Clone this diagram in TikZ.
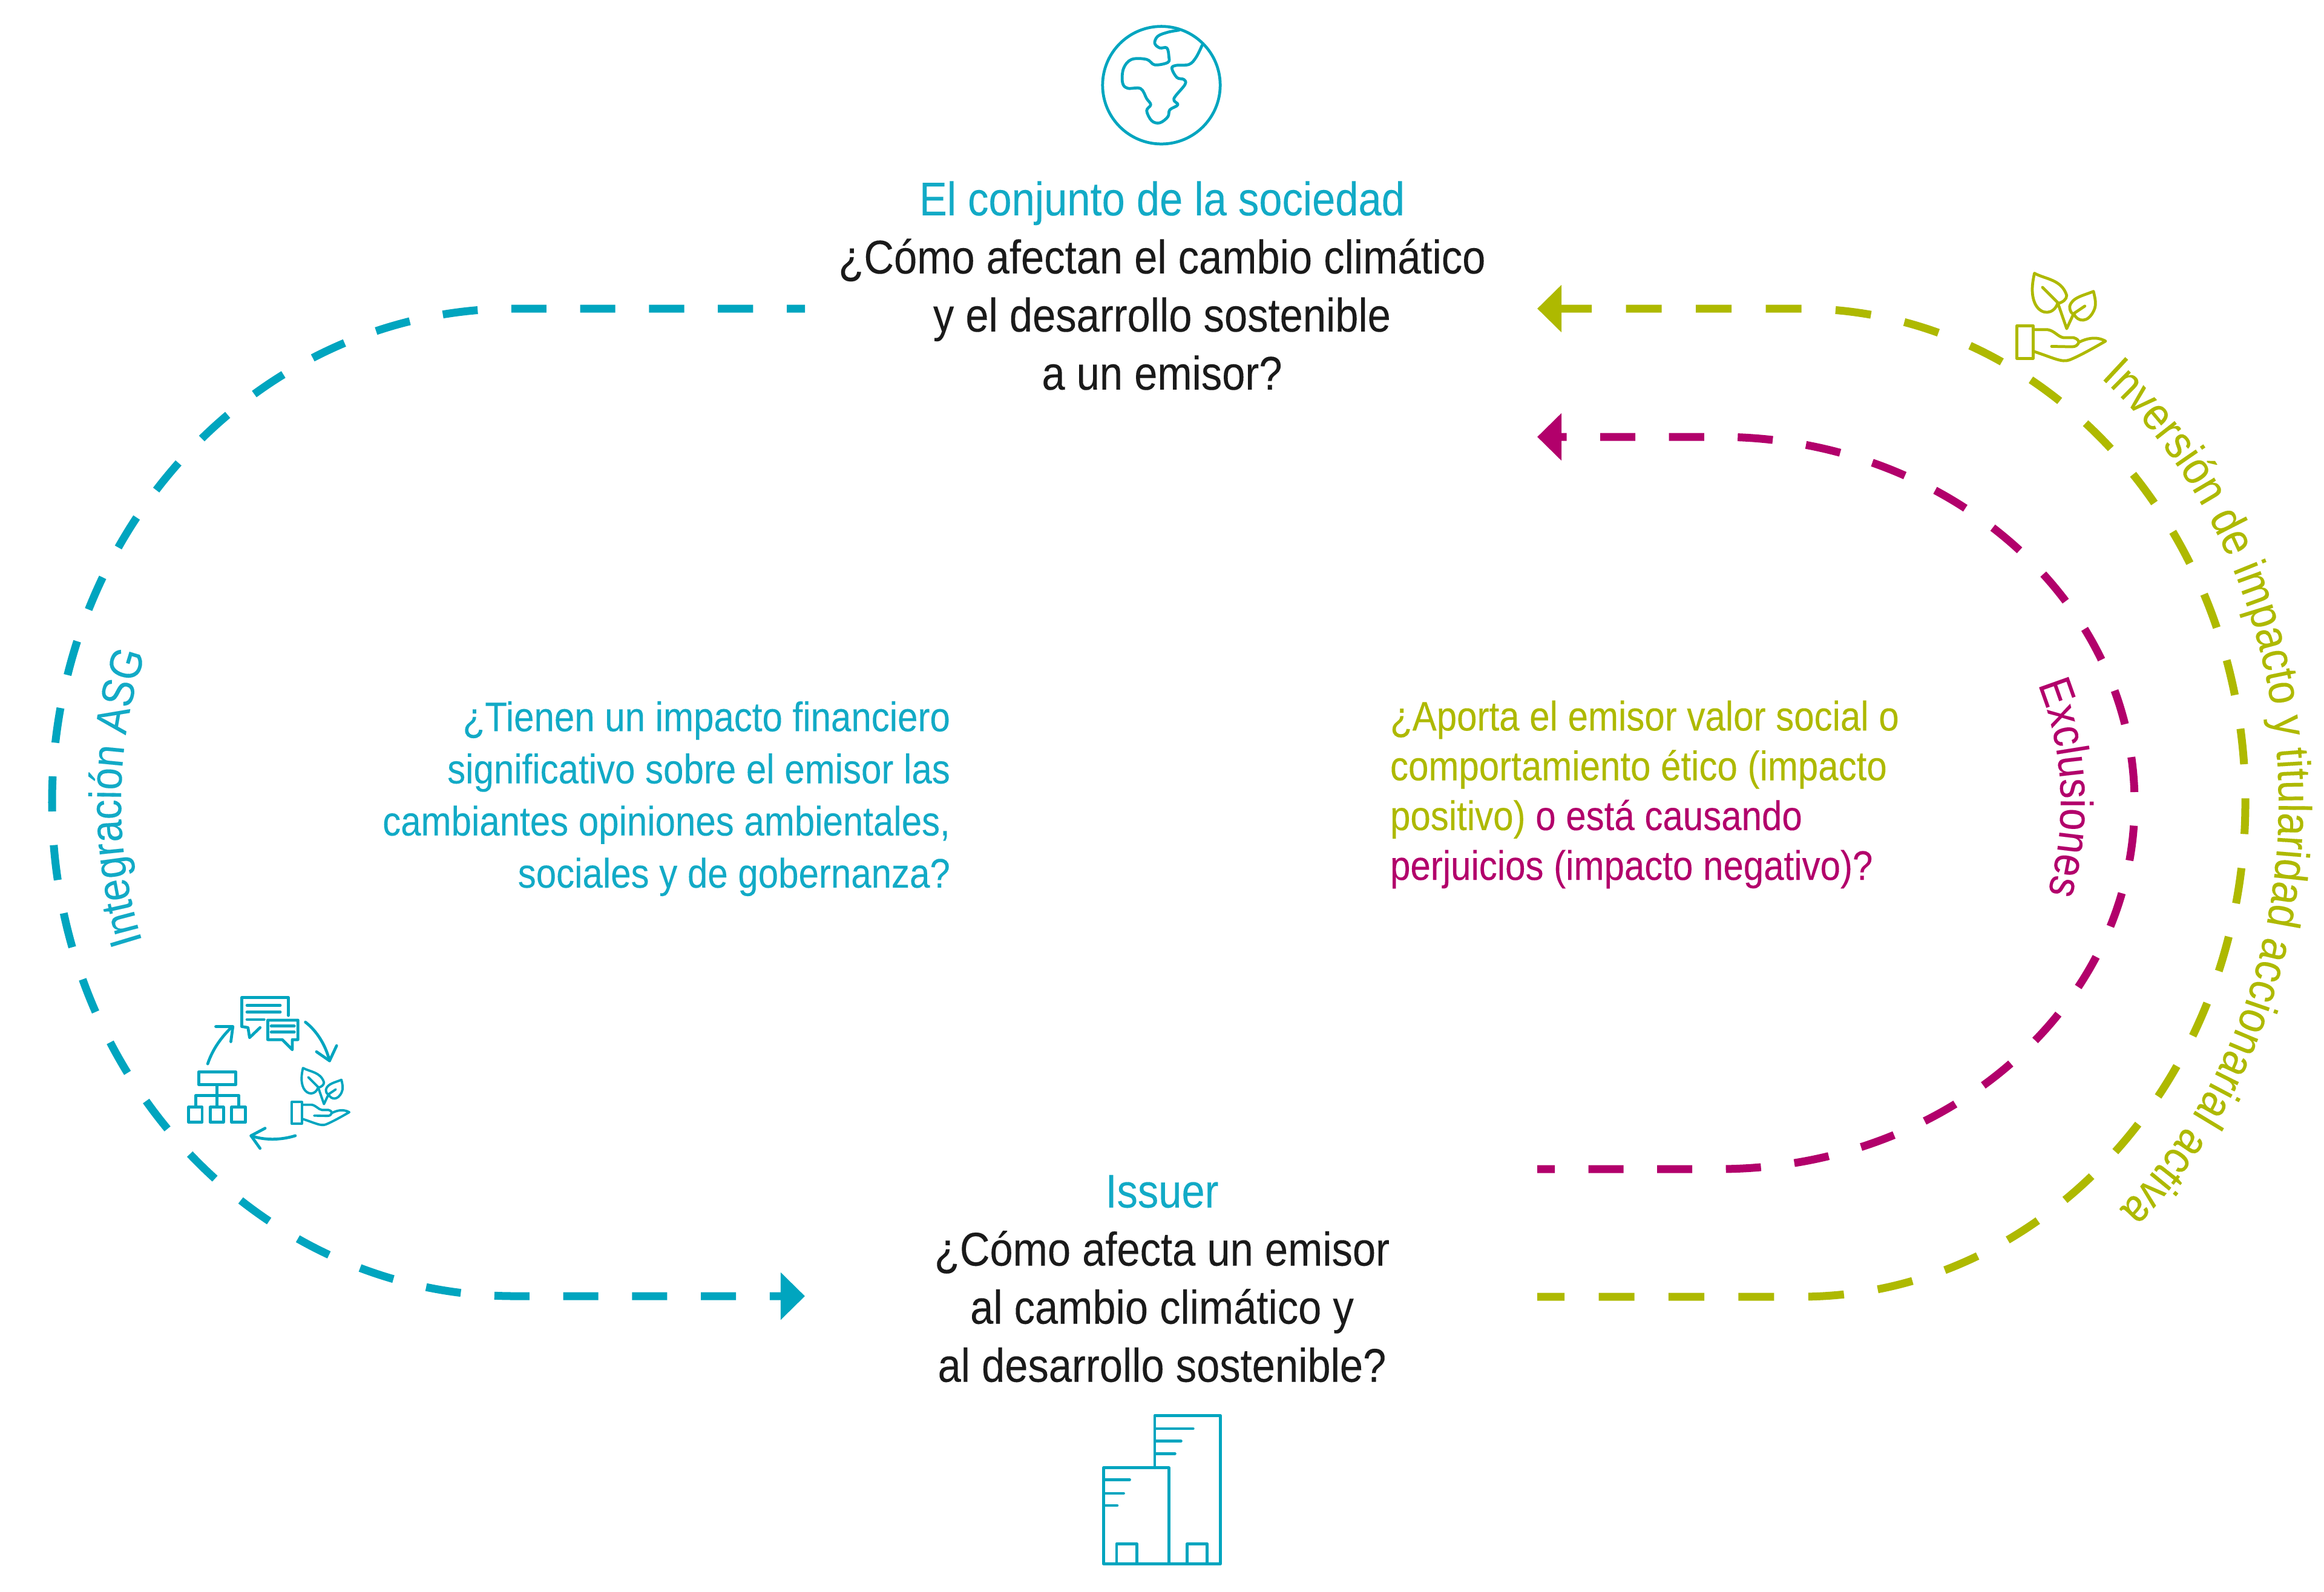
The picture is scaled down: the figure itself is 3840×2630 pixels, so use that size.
\documentclass[tikz,border=0pt]{standalone}
\usepackage{fontspec}
\usetikzlibrary{arrows.meta,decorations.text}
\setmainfont[FakeStretch=0.88,FakeBold=0.12]{Liberation Sans}
\definecolor{cblue}{HTML}{00A5BF}
\definecolor{ctblue}{HTML}{12AAC6}
\definecolor{cgreen}{HTML}{AEB900}
\definecolor{cmag}{HTML}{B2006B}
\definecolor{cink}{HTML}{1A1A1A}
\newcommand{\titlefont}{\fontsize{22.2}{27.3}\selectfont}
\newcommand{\leftfont}{\fontsize{19.4}{24.5}\selectfont}
\newcommand{\rightfont}{\fontsize{19.4}{23.4}\selectfont}
\newcommand{\arcfont}{\fontsize{21.3}{26}\selectfont}
\newcommand{\longarcfont}{\fontsize{21.8}{26}\selectfont}
\newcommand{\handicon}{%
  \draw (158,355) rectangle (238,518);
  \draw (238,375) -- (310,375) .. controls (345,380) and (360,410) .. (390,415) -- (440,415) .. controls (458,420) and (465,430) .. (465,438) .. controls (460,452) and (450,460) .. (430,460) -- (330,458);
  \draw (465,438) .. controls (500,420) and (550,405) .. (598,432) .. controls (540,465) and (470,505) .. (420,525) .. controls (380,540) and (340,515) .. (238,482);
  \draw (245,95) .. controls (300,125) and (380,125) .. (405,205) .. controls (405,225) and (385,240) .. (360,245) .. controls (340,300) and (280,305) .. (250,250) .. controls (225,200) and (235,140) .. (245,95) -- cycle;
  \draw (285,165) -- (360,240) -- (405,370) -- (440,295) -- (495,258);
  \draw (538,185) .. controls (490,205) and (430,215) .. (420,260) .. controls (420,285) and (430,295) .. (442,300) .. controls (460,335) and (510,345) .. (540,280) .. controls (555,250) and (545,215) .. (538,185) -- cycle;
}
\tikzset{
  flow/.style={line width=1.3mm},
  tip/.style={-{Triangle[length=0.4cm,width=0.76cm]}},
  icon/.style={line width=1.35pt,line join=round,line cap=round},
  textblock/.style={inner sep=0pt,outer sep=0pt,text=cink}
}
\begin{document}
\begin{tikzpicture}[x=0.01cm,y=-0.01cm]
\useasboundingbox (0,0) rectangle (3840,2630);
% text blocks
\node[textblock,align=center,font=\titlefont] (society) at (1920,472) {{\color{ctblue}El conjunto de la sociedad}\\¿Cómo afectan el cambio climático\\y el desarrollo sostenible\\a un emisor?};
\node[textblock,align=center,font=\titlefont] (issuer) at (1920,2113) {{\color{ctblue}Issuer}\\¿Cómo afecta un emisor\\al cambio climático y\\al desarrollo sostenible?};
\node[textblock,align=right,anchor=east,font=\leftfont,text=ctblue] (financial) at (1570,1320) {¿Tienen un impacto financiero\\significativo sobre el emisor las\\cambiantes opiniones ambientales,\\sociales y de gobernanza?};
\node[textblock,align=left,anchor=west,font=\rightfont] (ethical) at (2297,1313) {{\color{cgreen}¿Aporta el emisor valor social o}\\{\color{cgreen}comportamiento ético (impacto}\\{\color{cgreen}positivo)} {\color{cmag}o está causando}\\{\color{cmag}perjuicios (impacto negativo)?}};
% connector ends
\coordinate (blueStart) at (1330,510);
\coordinate (blueEnd) at (1330,2142);
\coordinate (greenStart) at (2540,2143);
\coordinate (greenEnd) at (2540,510);
\coordinate (magStart) at (2540,1932);
\coordinate (magEnd) at (2540,722);
% connectors
\draw[flow,tip,color=cblue,dash pattern=on 0.58cm off 0.557cm,dash phase=0.28cm] (blueStart) -- (850,510) .. controls (428,510) and (86,875) .. (86,1326) .. controls (86,1777) and (428,2142) .. (850,2142) -- (blueEnd);
\draw[flow,tip,color=cgreen,dash pattern=on 0.59cm off 0.564cm,dash phase=0.14cm] (greenStart) -- (2975,2143) .. controls (3381,2143) and (3710,1777) .. (3710,1326) .. controls (3710,875) and (3381,510) .. (2975,510) -- (greenEnd);
\draw[flow,tip,color=cmag,dash pattern=on 0.58cm off 0.555cm,dash phase=0.29cm] (magStart) -- (2840,1932) .. controls (3219,1932) and (3527,1661) .. (3527,1327) .. controls (3527,993) and (3219,722) .. (2840,722) -- (magEnd);
% curved labels
\path[decorate,decoration={text along path,text align=center,text={|\arcfont\color{ctblue}|Integración ASG}}] (833,1326) ++(162:633 and 700) arc[start angle=162,end angle=199.4,x radius=633,y radius=700];
\path[decorate,decoration={text along path,text align=center,text={|\arcfont\color{cmag}|Exclusiones}}] (2890,1327) ++(-21:515 and 520) arc[start angle=-21,end angle=15.5,x radius=515,y radius=520];
\path[decorate,decoration={text along path,text align=center,text={|\longarcfont\color{cgreen}|Inversión de impacto y titularidad accionarial activa}}] (3000,1326) ++(-54:765 and 890) arc[start angle=-54,end angle=51,x radius=765,y radius=890];
% globe icon
\begin{scope}[shift={(1700,0)},x=0.003333cm,y=-0.003333cm,color=cblue,icon]
\draw (658,423) circle[radius=292];
\draw plot[smooth,tension=.6] coordinates {(745,150) (690,160) (640,180) (625,215) (650,238) (685,238) (695,280) (690,310) (625,322) (585,295) (510,295) (470,340) (465,410) (490,438) (555,440) (585,490) (605,520) (585,550) (610,600) (650,610) (690,580) (700,545) (740,520) (720,490) (775,420) (770,395) (735,385) (710,340) (730,325) (795,320) (830,285) (860,225)};
\end{scope}
% building icon
\begin{scope}[shift={(1760,2300)},x=0.003333cm,y=-0.003333cm,color=cblue,icon]
\draw (445,378) -- (445,118) -- (770,118) -- (770,855) -- (190,855) -- (190,378) -- (515,378) -- (515,855);
\draw (450,183) -- (635,183) (450,245) -- (575,245) (450,307) -- (545,307);
\draw (195,437) -- (320,437) (195,505) -- (290,505) (195,565) -- (258,565);
\draw (255,855) -- (255,755) -- (355,755) -- (355,855);
\draw (605,855) -- (605,755) -- (705,755) -- (705,855);
\end{scope}
% plant icon
\begin{scope}[shift={(3280,420)},x=0.003333cm,y=-0.003333cm,color=cgreen,icon]
\handicon
\end{scope}
% cycle icon
\begin{scope}[shift={(260,1600)},x=0.003333cm,y=-0.003333cm,color=cblue,icon]
\draw (420,290) -- (420,145) -- (650,145) -- (650,235);
\draw (420,290) -- (450,295) -- (458,345) -- (510,295);
\draw (445,185) -- (610,185) (445,218) -- (610,218) (445,255) -- (530,255);
\draw (548,258) -- (698,258) -- (698,355) -- (670,355) -- (670,405) -- (620,355) -- (548,355) -- cycle;
\draw (565,288) -- (680,288) (565,318) -- (680,318);
\draw (250,475) .. controls (275,400) and (320,340) .. (372,290);
\draw (290,290) -- (375,290) -- (365,365);
\draw (735,268) .. controls (790,310) and (835,380) .. (855,460);
\draw (790,415) -- (855,460) -- (890,385);
\draw (685,832) .. controls (610,855) and (530,855) .. (465,832);
\draw (535,795) -- (465,832) -- (510,895);
\draw (205,515) rectangle (390,578);
\draw (295,578) -- (295,690);
\draw (190,690) -- (190,632) -- (405,632) -- (405,690);
\draw (155,690) rectangle (222,765);
\draw (262,690) rectangle (328,765);
\draw (368,690) rectangle (438,765);
\end{scope}
\begin{scope}[shift={(447.5,1744.4)},x=0.002167cm,y=-0.002167cm,color=cblue,icon,line width=1.1pt]
\handicon
\end{scope}
\end{tikzpicture}
\end{document}
